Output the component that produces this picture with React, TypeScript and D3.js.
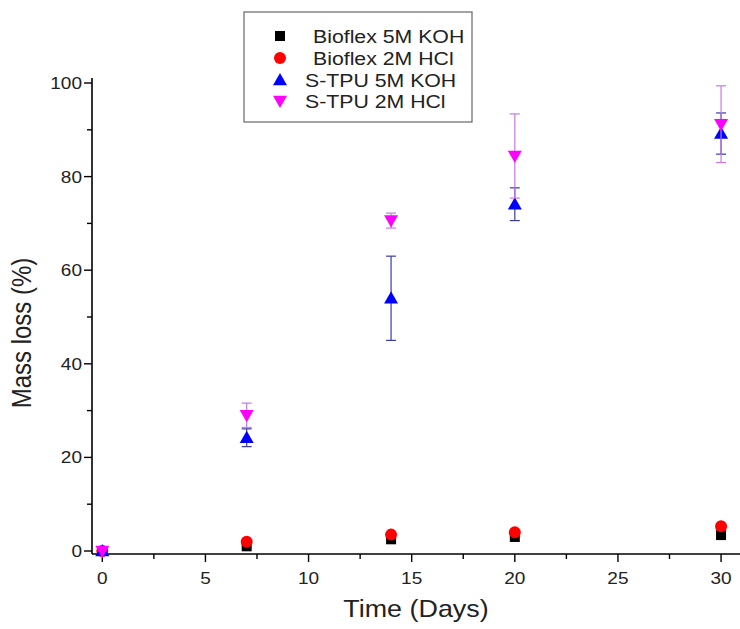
import React from "react";
import * as d3 from "d3";

const days = [0, 7, 14, 20, 30];
const bioflexKOH = [0, 1.0, 2.5, 3.0, 3.4];
const bioflexHCl = [0, 2.0, 3.5, 4.0, 5.3];
const stpuKOH = [0, 24.2, 54.0, 74.1, 89.2];
const stpuKOHErr = [0, 1.9, 9.0, 3.5, 4.4];
const stpuHCl = [0, 29.0, 70.6, 84.4, 91.2];
const stpuHClErr = [0, 2.6, 1.6, 9.0, 8.2];
const xTicks = [0, 5, 10, 15, 20, 25, 30];
const yTicks = [0, 20, 40, 60, 80, 100];
const legendLabels = ["Bioflex 5M KOH", "Bioflex 2M HCl", "S-TPU 5M KOH", "S-TPU 2M HCl"];

const W = 740;
const H = 629;
const FONT = "Liberation Sans, Arial, sans-serif";
const SX = 1.12;

function HText({ x, y, anchor = "start", size, children, dy = "0" }: any) {
  return (
    <text
      transform={`translate(${x},${y}) scale(${SX},1)`}
      dy={dy}
      textAnchor={anchor}
      fontSize={size}
      fill="#222"
    >
      {children}
    </text>
  );
}

export default function App() {
  const x = d3.scaleLinear().domain([-0.5, 31.5]).range([92, 752]);
  const y = d3.scaleLinear().domain([0, 100]).range([551, 83]);
  const yBottom = 554;
  const yTop = 78;

  const tri = (cx: number, cy: number, up: boolean, s = 7) =>
    up
      ? `M${cx},${cy - s} L${cx + s},${cy + s * 0.75} L${cx - s},${cy + s * 0.75} Z`
      : `M${cx},${cy + s} L${cx + s},${cy - s * 0.75} L${cx - s},${cy - s * 0.75} Z`;

  const errBars = (vals: number[], errs: number[], color: string) =>
    days.map((d, i) =>
      errs[i] > 0 ? (
        <g key={"e" + i} stroke={color} strokeWidth={1.2}>
          <line x1={x(d)} x2={x(d)} y1={y(vals[i] + errs[i])} y2={y(vals[i] - errs[i])} />
          <line x1={x(d) - 5} x2={x(d) + 5} y1={y(vals[i] + errs[i])} y2={y(vals[i] + errs[i])} />
          <line x1={x(d) - 5} x2={x(d) + 5} y1={y(vals[i] - errs[i])} y2={y(vals[i] - errs[i])} />
        </g>
      ) : null
    );

  const xMinor = d3.range(2.5, 31, 5);
  const yMinor = d3.range(10, 100, 20);

  const legendX = 280;
  const legendRows = [36, 58, 80, 101];

  return (
    <svg width={W} height={H} style={{ position: "absolute", left: 0, top: 0, background: "#fff" }} fontFamily={FONT}>
      {/* axes */}
      <line x1={x(-0.5)} x2={x(-0.5)} y1={yTop} y2={yBottom} stroke="#000" strokeWidth={1.6} />
      <line x1={x(-0.5)} x2={W} y1={yBottom} y2={yBottom} stroke="#000" strokeWidth={1.6} />
      {yTicks.map((t) => (
        <g key={"yt" + t}>
          <line x1={x(-0.5) - 8} x2={x(-0.5)} y1={y(t)} y2={y(t)} stroke="#000" strokeWidth={1.4} />
          <HText x={x(-0.5) - 10} y={y(t)} dy="0.35em" anchor="end" size={17}>
            {t}
          </HText>
        </g>
      ))}
      {yMinor.map((t) => (
        <line key={"ym" + t} x1={x(-0.5) - 5} x2={x(-0.5)} y1={y(t)} y2={y(t)} stroke="#000" strokeWidth={1.4} />
      ))}
      {xTicks.map((t) => (
        <g key={"xt" + t}>
          <line x1={x(t)} x2={x(t)} y1={yBottom} y2={yBottom + 8} stroke="#000" strokeWidth={1.4} />
          <HText x={x(t)} y={yBottom + 30} anchor="middle" size={17}>
            {t}
          </HText>
        </g>
      ))}
      {xMinor.map((t) => (
        <line key={"xm" + t} x1={x(t)} x2={x(t)} y1={yBottom} y2={yBottom + 5} stroke="#000" strokeWidth={1.4} />
      ))}
      <HText x={416} y={617} anchor="middle" size={24}>
        Time (Days)
      </HText>
      <text
        transform={`translate(22,333) scale(${SX},1) rotate(-90)`}
        dy="0.35em"
        textAnchor="middle"
        fontSize={24}
        fill="#222"
      >
        Mass loss (%)
      </text>

      {/* series */}
      {days.map((d, i) => (
        <rect key={"s1" + i} x={x(d) - 5} y={y(bioflexKOH[i]) - 5} width={10} height={10} fill="#000" />
      ))}
      {days.map((d, i) => (
        <circle key={"s2" + i} cx={x(d)} cy={y(bioflexHCl[i])} r={6} fill="#f00" />
      ))}
      {errBars(stpuKOH, stpuKOHErr, "#3a3aa8")}
      {days.map((d, i) => (
        <path key={"s3" + i} d={tri(x(d), y(stpuKOH[i]), true)} fill="#0000ff" />
      ))}
      {errBars(stpuHCl, stpuHClErr, "#c878e8")}
      {days.map((d, i) => (
        <path key={"s4" + i} d={tri(x(d), y(stpuHCl[i]), false)} fill="#ff00ff" />
      ))}

      {/* legend */}
      <rect x={244} y={12} width={228} height={110} fill="#fff" stroke="#666" strokeWidth={1.2} />
      <rect x={legendX - 5} y={legendRows[0] - 5} width={10} height={10} fill="#000" />
      <circle cx={legendX} cy={legendRows[1]} r={6} fill="#f00" />
      <path d={tri(legendX, legendRows[2], true)} fill="#0000ff" />
      <path d={tri(legendX, legendRows[3], false)} fill="#ff00ff" />
      {legendLabels.map((l, i) => (
        <HText key={l} x={i < 2 ? 313 : 305} y={legendRows[i]} dy="0.35em" size={19}>
          {l}
        </HText>
      ))}
    </svg>
  );
}
